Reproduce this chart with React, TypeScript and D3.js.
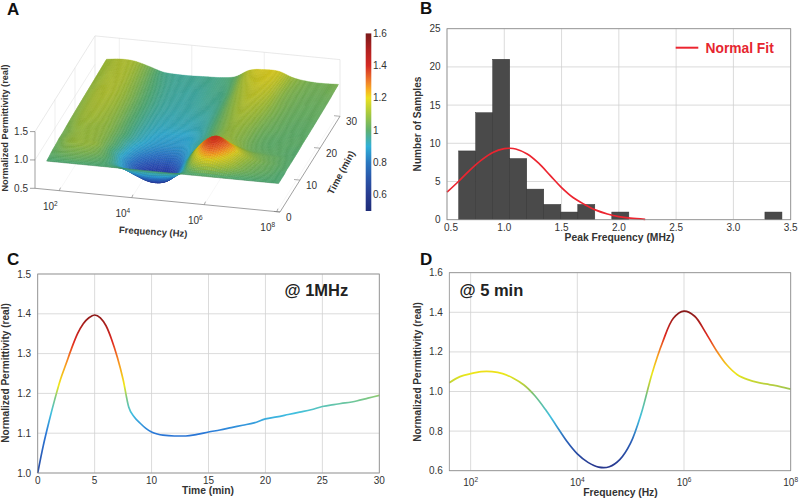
import React, { useMemo } from "react";
import * as d3 from "d3";

// ---------- Panel A: surface ----------
const surfaceLogFreq = [1.65, 2, 2.4, 2.8, 3.2, 3.6, 4, 4.4, 4.8, 5.2, 5.6, 6, 6.4, 6.8, 7.2, 7.6, 8.05];
const surfaceTimes = [0, 1, 2, 3, 4, 5, 6, 7, 8, 10, 12, 15, 20, 25, 30];
const surfaceValues = [
  [1, 1, 1, 1, 1, 1, 1, 1, 1, 1, 1, 1, 1, 1, 1, 1, 1],
  [1.01, 1.02, 1.03, 1.02, 1.0, 0.95, 0.88, 0.82, 0.84, 0.92, 1.05, 1.13, 1.09, 1.04, 1.02, 1.01, 1.0],
  [1.02, 1.04, 1.05, 1.04, 1.0, 0.9, 0.78, 0.7, 0.73, 0.88, 1.12, 1.235, 1.16, 1.08, 1.04, 1.02, 1.0],
  [1.03, 1.06, 1.07, 1.06, 1.0, 0.87, 0.72, 0.63, 0.67, 0.88, 1.17, 1.315, 1.22, 1.1, 1.05, 1.03, 1.0],
  [1.035, 1.075, 1.09, 1.07, 0.99, 0.85, 0.7, 0.6, 0.64, 0.89, 1.21, 1.375, 1.26, 1.12, 1.06, 1.03, 1.01],
  [1.04, 1.09, 1.1, 1.085, 0.98, 0.84, 0.69, 0.617, 0.645, 0.906, 1.235, 1.397, 1.29, 1.14, 1.07, 1.035, 1.01],
  [1.05, 1.09, 1.1, 1.08, 0.99, 0.86, 0.73, 0.67, 0.7, 0.91, 1.22, 1.37, 1.25, 1.12, 1.06, 1.03, 1.01],
  [1.05, 1.09, 1.1, 1.08, 1.0, 0.88, 0.78, 0.73, 0.76, 0.92, 1.17, 1.29, 1.19, 1.09, 1.05, 1.03, 1.01],
  [1.05, 1.09, 1.1, 1.08, 1.0, 0.9, 0.83, 0.79, 0.81, 0.92, 1.08, 1.165, 1.11, 1.05, 1.03, 1.02, 1.01],
  [1.06, 1.1, 1.1, 1.08, 1.01, 0.93, 0.88, 0.86, 0.87, 0.93, 1.04, 1.103, 1.08, 1.04, 1.02, 1.02, 1.01],
  [1.07, 1.11, 1.11, 1.08, 1.01, 0.94, 0.9, 0.89, 0.89, 0.93, 1.03, 1.093, 1.08, 1.04, 1.02, 1.02, 1.02],
  [1.08, 1.12, 1.12, 1.08, 1.01, 0.95, 0.92, 0.92, 0.92, 0.95, 1.04, 1.103, 1.09, 1.05, 1.03, 1.02, 1.02],
  [1.09, 1.13, 1.13, 1.08, 1.01, 0.96, 0.94, 0.94, 0.95, 0.97, 1.07, 1.136, 1.12, 1.07, 1.04, 1.03, 1.03],
  [1.1, 1.13, 1.13, 1.07, 1.0, 0.96, 0.95, 0.95, 0.97, 0.99, 1.11, 1.167, 1.16, 1.08, 1.05, 1.04, 1.04],
  [1.11, 1.135, 1.126, 1.06, 0.98, 0.96, 0.96, 0.97, 0.98, 1.02, 1.16, 1.195, 1.19, 1.1, 1.06, 1.05, 1.06],
];
const colorbarStops = [0.5, 0.6, 0.7, 0.8, 0.9, 1.0, 1.1, 1.2, 1.25, 1.3, 1.4, 1.5, 1.6];
const colorbarColors = ["#1e2c78", "#283c90", "#2a55a8", "#2a78c0", "#30b0d8", "#60b070", "#a4c840", "#ece020", "#f8b020", "#f0802a", "#d42a24", "#b02020", "#7a1a1a"];
// Surface colours sit a little deeper than the bar: the mesh lines darken them in the reference.
const surfaceColors = ["#1e2c78", "#262f98", "#2a48b0", "#2a70c4", "#30a8d0", "#4fa872", "#96b83a", "#d8c81c", "#f0a01c", "#ec7024", "#d42a20", "#b02020", "#7a1a1a"];
const colorbarTicks = [0.6, 0.8, 1, 1.2, 1.4, 1.6];
const zTicksA = [0.5, 1, 1.5];
const freqTicksA = [2, 4, 6, 8];
const timeTicksA = [0, 10, 20, 30];

// ---------- Panel B ----------
const binStart = 0.602;
const binWidth = 0.1485;
const binCounts = [9, 14, 21, 8, 4, 2, 1, 2, 0, 1, 0, 0, 0, 0, 0, 0, 0, 0, 1];
const fitX = [0.5, 0.6, 0.7, 0.8, 0.9, 1.0, 1.05, 1.1, 1.2, 1.3, 1.4, 1.5, 1.6, 1.7, 1.8, 1.9, 2.0, 2.1, 2.23];
const fitY = [3.6, 5, 6.5, 7.8, 8.8, 9.3, 9.35, 9.25, 8.6, 7.4, 5.8, 4.2, 2.9, 2.0, 1.25, 0.75, 0.4, 0.2, 0.05];
const bXTicks = [0.5, 1, 1.5, 2, 2.5, 3, 3.5];
const bYTicks = [0, 5, 10, 15, 20, 25];

// ---------- Panel C ----------
const cTime = [0, 0.5, 1, 1.5, 2, 2.5, 3, 3.5, 4, 4.5, 5, 5.5, 6, 6.5, 7, 7.5, 8, 8.5, 9, 9.5, 10, 10.5, 11, 12, 13, 14, 15, 16, 17, 18, 19, 20, 21, 22, 23, 24, 25, 26, 27, 28, 29, 30];
const cValue = [1.0, 1.07, 1.13, 1.185, 1.235, 1.275, 1.315, 1.35, 1.375, 1.39, 1.397, 1.39, 1.37, 1.335, 1.29, 1.235, 1.165, 1.14, 1.125, 1.112, 1.103, 1.098, 1.095, 1.093, 1.093, 1.097, 1.103, 1.108, 1.114, 1.12, 1.126, 1.136, 1.141, 1.147, 1.153, 1.159, 1.167, 1.172, 1.176, 1.181, 1.188, 1.195];
const cColorStops = [1.0, 1.1, 1.15, 1.19, 1.22, 1.28, 1.33, 1.4];
const cColors = ["#2a4aa0", "#2a78d8", "#40c0e0", "#80c880", "#f0e818", "#f89020", "#e02820", "#8a1a1a"];
const cXTicks = [0, 5, 10, 15, 20, 25, 30];
const cYTicks = [1.0, 1.1, 1.2, 1.3, 1.4, 1.5];

// ---------- Panel D ----------
const dLogFreq = [1.6, 1.8, 2, 2.2, 2.4, 2.6, 2.8, 3, 3.2, 3.4, 3.6, 3.8, 4, 4.2, 4.4, 4.6, 4.8, 5, 5.2, 5.4, 5.6, 5.8, 6, 6.2, 6.4, 6.6, 6.8, 7, 7.2, 7.4, 7.6, 7.8, 8];
const dValue = [1.044, 1.075, 1.09, 1.1, 1.1, 1.09, 1.067, 1.033, 0.98, 0.91, 0.83, 0.75, 0.685, 0.642, 0.618, 0.62, 0.657, 0.74, 0.89, 1.09, 1.25, 1.37, 1.406, 1.38, 1.3, 1.21, 1.135, 1.085, 1.06, 1.045, 1.035, 1.025, 1.012];
const dColorStops = [0.62, 0.75, 0.87, 0.98, 1.02, 1.09, 1.18, 1.28, 1.4];
const dColors = ["#28388f", "#2a60b8", "#40c0e0", "#70c080", "#a8c848", "#ece818", "#f8a020", "#e02820", "#8a1a1a"];
const dXTicks = [2, 4, 6, 8];
const dYTicks = [0.6, 0.8, 1.0, 1.2, 1.4, 1.6];

const FONT = "'Liberation Sans', Arial, sans-serif";
const TEXT = "#333";
const GRID = "#d2d2d2";
const BORDER = "#8c8c8c";

// Display-only smoothing between the grid values.
function catmull(arr: number[], u: number) {
  const n = arr.length - 1;
  const i = Math.max(0, Math.min(n - 1, Math.floor(u)));
  const f = u - i;
  const p0 = arr[Math.max(0, i - 1)], p1 = arr[i], p2 = arr[i + 1], p3 = arr[Math.min(n, i + 2)];
  return 0.5 * (2 * p1 + (p2 - p0) * f + (2 * p0 - 5 * p1 + 4 * p2 - p3) * f * f + (3 * p1 - p0 - 3 * p2 + p3) * f * f * f);
}

function gradientStops(stops: number[], colors: string[], y: d3.ScaleLinear<number, number>) {
  const y0 = y(stops[0]), y1 = y(stops[stops.length - 1]);
  return (
    <>
      {stops.map((s, i) => (
        <stop key={i} offset={(y(s) - y0) / (y1 - y0)} stopColor={colors[i]} />
      ))}
    </>
  );
}

function Surface() {
  const zColor = d3.scaleLinear<string>().domain(colorbarStops).range(surfaceColors).clamp(true);
  const ax = d3.scaleLinear().domain([1.33, 8.09]).range([0, 245]);
  const ay = d3.scaleLinear().domain([1.33, 8.09]).range([0, 23.7]);
  const tx = d3.scaleLinear().domain([0, 30]).range([0, 60]);
  const ty = d3.scaleLinear().domain([0, 30]).range([0, -95.7]);
  const zy = d3.scaleLinear().domain([0.5, 1.5]).range([0, -56.7]);
  const P = (lf: number, t: number, z: number): [number, number] => [35 + ax(lf) + tx(t), 188.3 + ay(lf) + ty(t) + zy(z)];
  const lfMin = 1.33, lfMax = 8.09;
  const poly = (pts: [number, number][]) => "M" + pts.map((p) => p[0].toFixed(2) + "," + p[1].toFixed(2)).join("L");

  const strips = useMemo(() => {
    const tIdx = d3.scaleLinear().domain(surfaceTimes).range(surfaceTimes.map((_, i) => i));
    const fIdx = d3.scaleLinear().domain(surfaceLogFreq).range(surfaceLogFreq.map((_, i) => i));
    const nT = 100, nF = 110;
    const colsF = d3.range(nF + 1).map((i) => surfaceLogFreq[0] + (i / nF) * (8.05 - surfaceLogFreq[0]));
    const byCol = surfaceLogFreq.map((_, c) => surfaceValues.map((r) => r[c]));
    const rowsT = d3.range(nT + 1).map((i) => (i / nT) * 30);
    const grid = rowsT.map((t) => {
      const u = tIdx(t);
      const rowAtT = byCol.map((col) => catmull(col, u));
      return colsF.map((lf) => catmull(rowAtT, fIdx(lf)));
    });
    const out: { d: string; c: string }[][] = [];
    for (let r = nT - 1; r >= 0; r--) {
      const cells: { d: string; c: string }[] = [];
      for (let c = 0; c < nF; c++) {
        const z = (grid[r][c] + grid[r + 1][c] + grid[r][c + 1] + grid[r + 1][c + 1]) / 4;
        cells.push({
          d: poly([
            P(colsF[c], rowsT[r], grid[r][c]),
            P(colsF[c + 1], rowsT[r], grid[r][c + 1]),
            P(colsF[c + 1], rowsT[r + 1], grid[r + 1][c + 1]),
            P(colsF[c], rowsT[r + 1], grid[r + 1][c]),
          ]) + "Z",
          c: zColor(z),
        });
      }
      out.push(cells);
    }
    const lines = rowsT.map((t, r) => poly(colsF.map((lf, c) => P(lf, t, grid[r][c]))));
    return { out, lines, nT };
  }, []);

  const wall = "#dfdfdf";
  const line = (a: [number, number], b: [number, number], stroke: string, w = 0.7, key?: any) => (
    <line key={key} x1={a[0]} y1={a[1]} x2={b[0]} y2={b[1]} stroke={stroke} strokeWidth={w} />
  );
  const cbY = d3.scaleLinear().domain([0.5, 1.6]).range([211, 33.4]);

  return (
    <g fontFamily={FONT} fill={TEXT}>
      {/* back walls */}
      {line(P(lfMin, 0, 1.5), P(lfMin, 30, 1.5), wall)}
      {line(P(lfMin, 30, 1.5), P(lfMax, 30, 1.5), wall)}
      {line(P(lfMax, 30, 1.5), P(lfMax, 30, 0.5), wall)}
      {line(P(lfMin, 30, 1.5), P(lfMin, 30, 0.5), wall)}
      {line(P(lfMin, 30, 1.0), P(lfMin, 0, 1.0), wall, 0.5)}
      {timeTicksA.slice(1, 3).map((t) => line(P(lfMin, t, 0.5), P(lfMin, t, 1.5), wall, 0.5, "wt" + t))}
      {freqTicksA.slice(0, 3).map((f) => line(P(f, 30, 0.5), P(f, 30, 1.5), wall, 0.5, "wf" + f))}
      {freqTicksA.map((f) => line(P(f, 0, 0.5), P(f, 30, 0.5), "#eeeeee", 0.5, "ff" + f))}

      {/* surface, painted back to front */}
      {strips.out.map((cells, i) => (
        <g key={i}>
          {cells.map((q, j) => (
            <path key={j} d={q.d} fill={q.c} stroke={q.c} strokeWidth={0.4} />
          ))}
          <path d={strips.lines[strips.nT - i - 1]} fill="none" stroke="#15240c" strokeOpacity={0.3} strokeWidth={0.5} />
        </g>
      ))}

      {/* front axes */}
      {line(P(lfMin, 0, 0.5), P(lfMin, 0, 1.5), "#777", 0.7)}
      {line(P(lfMin, 0, 0.5), P(lfMax, 0, 0.5), "#777", 0.7)}
      {line(P(lfMax, 0, 0.5), P(lfMax, 30, 0.5), "#777", 0.7)}
      {zTicksA.map((z) => {
        const p = P(lfMin, 0, z);
        return (
          <g key={z}>
            <line x1={p[0] - 5} x2={p[0]} y1={p[1]} y2={p[1]} stroke="#777" strokeWidth={0.7} />
            <text x={p[0] - 7} y={p[1] + 3.5} fontSize={10} textAnchor="end">{z.toFixed(1)}</text>
          </g>
        );
      })}
      {freqTicksA.map((f) => {
        const p = P(f, 0, 0.5);
        return (
          <g key={f}>
            <line x1={p[0]} x2={p[0] + 1.2} y1={p[1]} y2={p[1] - 3} stroke="#777" strokeWidth={0.6} />
            <text x={p[0] - 9} y={p[1] + 19} fontSize={10} textAnchor="middle">10<tspan dy={-4} fontSize={6.5}>{f}</tspan></text>
          </g>
        );
      })}
      {timeTicksA.map((t) => {
        const p = P(lfMax, t, 0.5);
        return (
          <g key={t}>
            <line x1={p[0]} x2={p[0] - 6} y1={p[1]} y2={p[1] - 0.6} stroke="#777" strokeWidth={0.6} />
            <text x={p[0] + 6} y={p[1] + 9} fontSize={10}>{t}</text>
          </g>
        );
      })}
      <text x={153} y={235} fontSize={9.5} fontWeight="bold" textAnchor="middle" transform="rotate(3.5 153 235)">Frequency (Hz)</text>
      <text x={344} y={174} fontSize={9.5} fontWeight="bold" textAnchor="middle" transform="rotate(-62 344 174)">Time (min)</text>
      <text x={8} y={128} fontSize={9.2} fontWeight="bold" textAnchor="middle" transform="rotate(-90 8 128)">Normalized Permittivity (real)</text>

      {/* colour bar */}
      <defs>
        <linearGradient id="cbGrad" gradientUnits="userSpaceOnUse" x1={0} x2={0} y1={cbY(0.5)} y2={cbY(1.6)}>
          {gradientStops(colorbarStops, colorbarColors, cbY)}
        </linearGradient>
      </defs>
      <rect x={365.7} y={cbY(1.6)} width={5.6} height={cbY(0.5) - cbY(1.6)} fill="url(#cbGrad)" />
      {colorbarTicks.map((t) => (
        <text key={t} x={373} y={cbY(t) + 3.5} fontSize={10}>{t}</text>
      ))}
    </g>
  );
}

function Frame(props: {
  x: [number, number]; y: [number, number]; xVals: number[]; yVals: number[];
  xs: (v: number) => number; ys: (v: number) => number;
  xFmt: (v: number) => React.ReactNode; yFmt: (v: number) => string;
  xTitle: string; xTitleX: number; xTitleY: number; yTitle: string; yTitleX: number; yTitleY: number;
  labelDy?: number; firstDx?: number; children?: React.ReactNode;
}) {
  const { x, y, xVals, yVals, xs, ys, xFmt, yFmt } = props;
  return (
    <g fontFamily={FONT} fill={TEXT}>
      <rect x={x[0]} y={y[0]} width={x[1] - x[0]} height={y[1] - y[0]} fill="#fff" />
      {xVals.map((v) => <line key={v} x1={xs(v)} x2={xs(v)} y1={y[0]} y2={y[1]} stroke={GRID} strokeWidth={0.8} />)}
      {yVals.map((v) => <line key={v} x1={x[0]} x2={x[1]} y1={ys(v)} y2={ys(v)} stroke={GRID} strokeWidth={0.8} />)}
      {props.children}
      <rect x={x[0]} y={y[0]} width={x[1] - x[0]} height={y[1] - y[0]} fill="none" stroke={BORDER} strokeWidth={0.8} />
      {xVals.map((v, i) => <text key={v} x={xs(v) + (i === 0 ? props.firstDx ?? 0 : 0)} y={y[1] + (props.labelDy ?? 11)} fontSize={10} textAnchor="middle">{xFmt(v)}</text>)}
      {yVals.map((v) => <text key={v} x={x[0] - 6.5} y={ys(v) + 3.5} fontSize={10} textAnchor="end">{yFmt(v)}</text>)}
      <text x={props.xTitleX} y={props.xTitleY} fontSize={10.3} fontWeight="bold" textAnchor="middle">{props.xTitle}</text>
      <text x={props.yTitleX} y={props.yTitleY} fontSize={10.1} fontWeight="bold" textAnchor="middle" transform={`rotate(-90 ${props.yTitleX} ${props.yTitleY})`}>{props.yTitle}</text>
    </g>
  );
}

function PanelB() {
  const x = d3.scaleLinear().domain([0.5, 3.5]).range([447, 790.7]);
  const y = d3.scaleLinear().domain([0, 25]).range([219.7, 28.7]);
  const fit = d3.line<number>().x((v) => x(v)).y((_, i) => y(fitY[i])).curve(d3.curveCatmullRom)(fitX)!;
  return (
    <Frame x={[447, 790.7]} y={[28.7, 219.7]} xVals={bXTicks} yVals={bYTicks} xs={x} ys={y}
      xFmt={(v) => v.toFixed(1)} yFmt={(v) => String(v)} firstDx={4}
      xTitle="Peak Frequency (MHz)" xTitleX={619.5} xTitleY={241} yTitle="Number of Samples" yTitleX={421} yTitleY={124}>
      {binCounts.map((c, i) => c > 0 && (
        <rect key={i} x={x(binStart + i * binWidth)} y={y(c)} width={x(binWidth) - x(0)} height={y(0) - y(c)} fill="#4a4a4a" stroke="#333" strokeWidth={0.5} />
      ))}
      <path d={fit} fill="none" stroke="#ec2530" strokeWidth={1.7} />
      <line x1={675.7} x2={698.3} y1={47.7} y2={47.7} stroke="#ec2530" strokeWidth={2} />
      <text x={705.5} y={52.5} fontSize={13.8} fontWeight="bold" fill="#e6262f">Normal Fit</text>
    </Frame>
  );
}

function PanelC() {
  const x = d3.scaleLinear().domain([0, 30]).range([37.7, 379.3]);
  const y = d3.scaleLinear().domain([1, 1.5]).range([473, 274]);
  const d = d3.line<number>().x((v) => x(v)).y((_, i) => y(cValue[i])).curve(d3.curveMonotoneX)(cTime)!;
  return (
    <Frame x={[37.7, 379.3]} y={[274, 473]} xVals={cXTicks} yVals={cYTicks} xs={x} ys={y}
      xFmt={(v) => String(v)} yFmt={(v) => v.toFixed(1)}
      xTitle="Time (min)" xTitleX={208} xTitleY={494} yTitle="Normalized Permittivity (real)" yTitleX={8.5} yTitleY={373}>
      <defs>
        <linearGradient id="cGrad" gradientUnits="userSpaceOnUse" x1={0} x2={0} y1={y(cColorStops[0])} y2={y(cColorStops[cColorStops.length - 1])}>
          {gradientStops(cColorStops, cColors, y)}
        </linearGradient>
      </defs>
      <path d={d} fill="none" stroke="url(#cGrad)" strokeWidth={1.7} />
      <text x={284.5} y={296} fontSize={16.5} fontWeight="bold" fill="#222">@ 1MHz</text>
    </Frame>
  );
}

function PanelD() {
  const x = d3.scaleLinear().domain([1.6, 8]).range([449.3, 790.7]);
  const y = d3.scaleLinear().domain([0.6, 1.6]).range([470.7, 272.7]);
  const d = d3.line<number>().x((v) => x(v)).y((_, i) => y(dValue[i])).curve(d3.curveCatmullRom)(dLogFreq)!;
  return (
    <Frame x={[449.3, 790.7]} y={[272.7, 470.7]} xVals={dXTicks} yVals={dYTicks} xs={x} ys={y}
      xFmt={(v) => <>10<tspan dy={-4} fontSize={6.5}>{v}</tspan></>} yFmt={(v) => v.toFixed(1)} labelDy={15}
      xTitle="Frequency (Hz)" xTitleX={620.5} xTitleY={496} yTitle="Normalized Permittivity (real)" yTitleX={421} yTitleY={372}>
      <defs>
        <linearGradient id="dGrad" gradientUnits="userSpaceOnUse" x1={0} x2={0} y1={y(dColorStops[0])} y2={y(dColorStops[dColorStops.length - 1])}>
          {gradientStops(dColorStops, dColors, y)}
        </linearGradient>
      </defs>
      <path d={d} fill="none" stroke="url(#dGrad)" strokeWidth={1.7} />
      <text x={459.5} y={296} fontSize={16.5} fontWeight="bold" fill="#222">@ 5 min</text>
    </Frame>
  );
}

export default function App() {
  return (
    <svg width={800} height={498} viewBox="0 0 800 498" style={{ position: "absolute", left: 0, top: 0, background: "#fff" }}>
      <Surface />
      <PanelB />
      <PanelC />
      <PanelD />
      {[["A", 7, 15], ["B", 420, 14], ["C", 7, 265], ["D", 420, 265]].map(([l, px, py]) => (
        <text key={l as string} x={px as number} y={py as number} fontFamily={FONT} fontSize={17} fontWeight="bold" fill="#111">{l}</text>
      ))}
    </svg>
  );
}
